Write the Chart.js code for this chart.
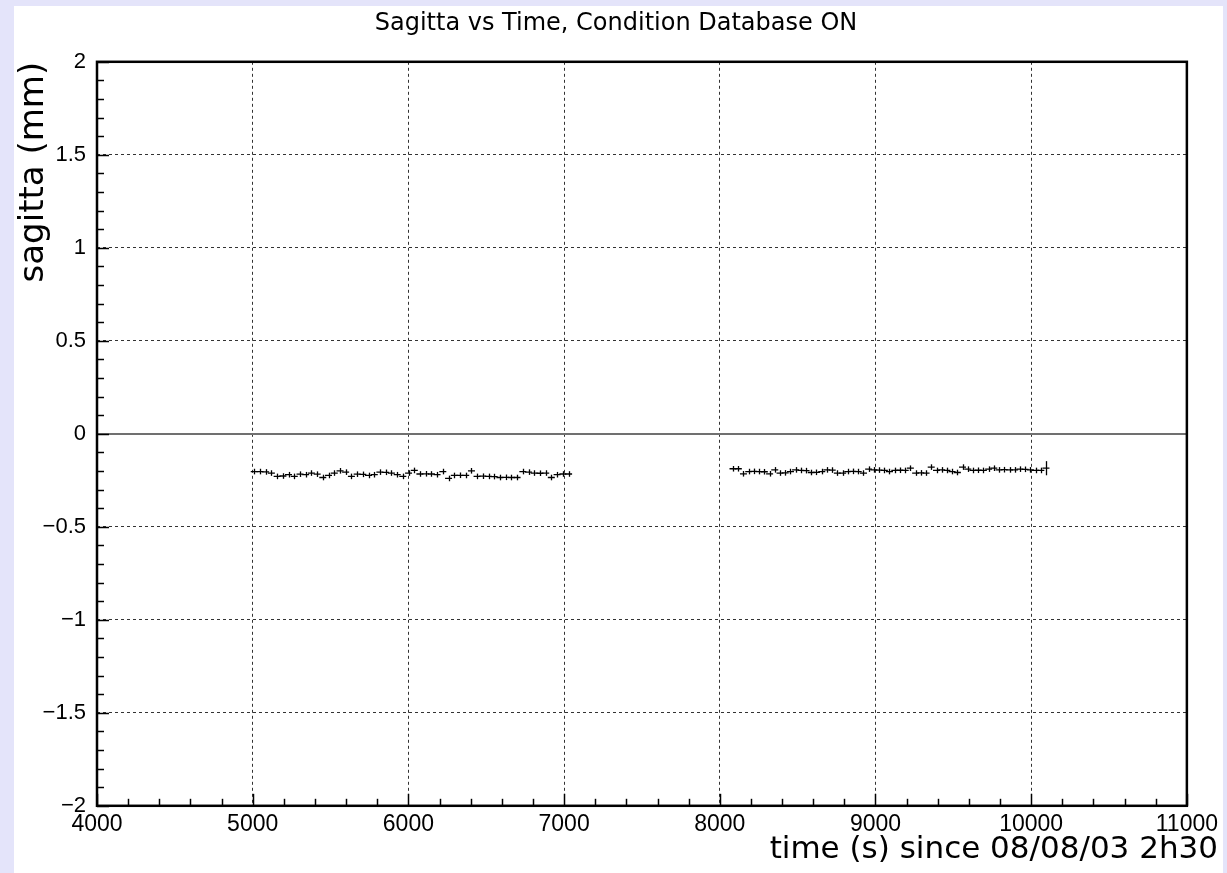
<!DOCTYPE html>
<html>
<head>
<meta charset="utf-8">
<title>Sagitta vs Time</title>
<script src="https://cdn.jsdelivr.net/npm/chart.js@4.4.1/dist/chart.umd.min.js"></script>
<style>
  html, body { margin: 0; padding: 0; background: #e4e4fa; }
  #wrap { position: absolute; left: 14px; top: 6px; width: 1209px; height: 867px; background: #fff; }
</style>
</head>
<body>
<div id="wrap"><canvas id="chart" width="1209" height="867"></canvas></div>
<script>
const chartTitle = 'Sagitta vs Time, Condition Database ON';
const xTitle = 'time (s) since 08/08/03 2h30';
const yTitle = 'sagitta (mm)';

const xTicks = [4000, 5000, 6000, 7000, 8000, 9000, 10000, 11000];
const xTickLabels = ['4000', '5000', '6000', '7000', '8000', '9000', '10000', '11000'];
const yTicks = [-2, -1.5, -1, -0.5, 0, 0.5, 1, 1.5, 2];
const yTickLabels = ['\u22122', '\u22121.5', '\u22121', '\u22120.5', '0', '0.5', '1', '1.5', '2'];

// first run
const time1 = [5010, 5047, 5083, 5120, 5157, 5194, 5230, 5267, 5304, 5340, 5377, 5414, 5450, 5487,
  5524, 5561, 5597, 5634, 5671, 5707, 5744, 5781, 5817, 5854, 5891, 5928, 5964, 6001, 6038, 6074,
  6111, 6148, 6184, 6221, 6258, 6295, 6331, 6368, 6405, 6441, 6478, 6515, 6551, 6588, 6625, 6662,
  6698, 6735, 6772, 6808, 6845, 6882, 6918, 6955, 6992, 7029];
const sag1 = [-0.203, -0.203, -0.205, -0.211, -0.229, -0.227, -0.220, -0.229, -0.217, -0.220, -0.211,
  -0.217, -0.235, -0.224, -0.211, -0.199, -0.206, -0.229, -0.217, -0.218, -0.224, -0.220, -0.206,
  -0.207, -0.211, -0.220, -0.229, -0.211, -0.197, -0.216, -0.215, -0.216, -0.220, -0.203, -0.240,
  -0.224, -0.223, -0.224, -0.199, -0.229, -0.228, -0.229, -0.230, -0.235, -0.234, -0.235, -0.235,
  -0.203, -0.206, -0.211, -0.212, -0.211, -0.235, -0.220, -0.216, -0.216];

// second run
const time2 = [8085, 8119, 8152, 8186, 8219, 8253, 8286, 8320, 8353, 8387, 8420, 8454, 8487, 8521,
  8554, 8588, 8621, 8655, 8688, 8722, 8755, 8789, 8822, 8856, 8889, 8923, 8956, 8990, 9023, 9057,
  9090, 9124, 9157, 9191, 9224, 9258, 9291, 9325, 9358, 9392, 9425, 9459, 9492, 9526, 9559, 9593,
  9626, 9660, 9693, 9727, 9760, 9794, 9827, 9861, 9894, 9928, 9961, 9995, 10028, 10062, 10095];
const sag2 = [-0.188, -0.188, -0.215, -0.203, -0.202, -0.203, -0.204, -0.215, -0.194, -0.211, -0.210,
  -0.203, -0.194, -0.197, -0.198, -0.208, -0.207, -0.203, -0.194, -0.195, -0.211, -0.211, -0.203,
  -0.202, -0.203, -0.211, -0.190, -0.194, -0.195, -0.197, -0.203, -0.197, -0.196, -0.197, -0.185,
  -0.211, -0.210, -0.211, -0.179, -0.197, -0.194, -0.197, -0.203, -0.208, -0.179, -0.190, -0.197,
  -0.196, -0.197, -0.190, -0.185, -0.194, -0.193, -0.194, -0.194, -0.190, -0.191, -0.194, -0.197,
  -0.197, -0.185];

// vertical errors (mm)
const err1 = 0.015;
const err2 = 0.015;
const err2Last = 0.038;

const fontName = '"DejaVu Sans", sans-serif';
const tickFont = '"Liberation Sans", Arial, sans-serif';

function toPoints(t, v) {
  return t.map((x, i) => ({ x: x, y: v[i] }));
}

// zero line, frame, inner ticks and error bars
const rootStyle = {
  id: 'rootStyle',
  beforeDatasetsDraw(chart) {
    const { ctx, chartArea: a, scales: { y } } = chart;
    const y0 = Math.round(y.getPixelForValue(0));
    ctx.save();
    ctx.strokeStyle = '#707070';
    ctx.lineWidth = 2;
    ctx.beginPath();
    ctx.moveTo(a.left, y0);
    ctx.lineTo(a.right, y0);
    ctx.stroke();
    ctx.restore();
  },
  afterDatasetsDraw(chart) {
    const { ctx, scales: { y } } = chart;
    ctx.save();
    ctx.strokeStyle = '#000';
    ctx.lineWidth = 1.3;
    chart.data.datasets.forEach((ds, di) => {
      const meta = chart.getDatasetMeta(di);
      meta.data.forEach((pt, i) => {
        const e = ds.errors[i];
        const top = y.getPixelForValue(ds.data[i].y + e);
        const bot = y.getPixelForValue(ds.data[i].y - e);
        ctx.beginPath();
        ctx.moveTo(Math.round(pt.x) + 0.5, top);
        ctx.lineTo(Math.round(pt.x) + 0.5, bot);
        ctx.stroke();
      });
    });
    ctx.restore();
  },
  afterDraw(chart) {
    const { ctx, chartArea: a, scales: { x, y } } = chart;
    ctx.save();
    ctx.strokeStyle = '#000';
    ctx.lineWidth = 1.5;
    // minor / major ticks on bottom axis
    for (let v = x.min; v <= x.max + 1e-6; v += 200) {
      const px = Math.round(x.getPixelForValue(v)) + 0.5;
      const len = (Math.round(v) % 1000 === 0) ? 12 : 7;
      ctx.beginPath();
      ctx.moveTo(px, a.bottom);
      ctx.lineTo(px, a.bottom - len);
      ctx.stroke();
    }
    // minor / major ticks on left axis
    for (let k = -20; k <= 20; k++) {
      const py = Math.round(y.getPixelForValue(k / 10)) + 0.5;
      const len = (k % 5 === 0) ? 12 : 7;
      ctx.beginPath();
      ctx.moveTo(a.left, py);
      ctx.lineTo(a.left + len, py);
      ctx.stroke();
    }
    ctx.lineWidth = 2.5;
    ctx.strokeRect(a.left, a.top, a.right - a.left, a.bottom - a.top);
    ctx.restore();
  }
};

const ctx = document.getElementById('chart');
const chart = new Chart(ctx, {
  type: 'scatter',
  data: {
    datasets: [{
      label: 'run 1',
      data: toPoints(time1, sag1),
      errors: sag1.map(() => err1),
      pointStyle: 'line',
      pointRadius: 3.5,
      borderColor: '#000',
      backgroundColor: '#000',
      borderWidth: 1.3,
      showLine: false
    }, {
      label: 'run 2',
      data: toPoints(time2, sag2),
      errors: sag2.map((v, i) => i === sag2.length - 1 ? err2Last : err2),
      pointStyle: 'line',
      pointRadius: 3.5,
      borderColor: '#000',
      backgroundColor: '#000',
      borderWidth: 1.3,
      showLine: false
    }]
  },
  options: {
    responsive: false,
    animation: false,
    layout: { padding: { left: 0, right: 5, top: 0, bottom: 0 } },
    plugins: {
      legend: { display: false },
      tooltip: { enabled: false },
      title: {
        display: true,
        text: chartTitle,
        color: '#000',
        font: { family: fontName, size: 24, weight: 'normal', lineHeight: 1.2 },
        padding: { top: 3, bottom: 24 }
      },
      subtitle: {
        display: true,
        position: 'bottom',
        align: 'end',
        text: xTitle,
        color: '#000',
        font: { family: fontName, size: 31, weight: 'normal', lineHeight: 1.2 },
        padding: { top: 0, bottom: 4 }
      }
    },
    scales: {
      x: {
        type: 'linear',
        min: 4000,
        max: 11000,
        afterBuildTicks: s => { s.ticks = xTicks.map(v => ({ value: v })); },
        afterFit: s => { s.height = 26; },
        ticks: {
          callback: (v, i) => xTickLabels[i],
          color: '#000',
          font: { family: tickFont, size: 23 },
          padding: 5,
          maxRotation: 0,
          autoSkip: false
        },
        grid: { color: '#333', lineWidth: 1, drawTicks: false },
        border: { display: false, dash: [3, 3] }
      },
      y: {
        type: 'linear',
        min: -2,
        max: 2,
        afterBuildTicks: s => { s.ticks = yTicks.map(v => ({ value: v })); },
        afterFit: s => { s.width = 83; },
        ticks: {
          callback: (v, i) => yTickLabels[i],
          color: '#000',
          font: { family: tickFont, size: 22 },
          padding: 11
        },
        title: {
          display: true,
          text: yTitle,
          align: 'end',
          color: '#000',
          font: { family: fontName, size: 34, weight: 'normal', lineHeight: 1.2 },
          padding: { top: 0, bottom: 0 }
        },
        grid: { color: '#333', lineWidth: 1, drawTicks: false },
        border: { display: false, dash: [3, 3] }
      },
      yRight: {
        type: 'linear',
        position: 'right',
        display: true,
        min: -2,
        max: 2,
        afterFit: s => { s.width = 31; },
        ticks: { display: false },
        grid: { display: false, drawTicks: false },
        border: { display: false }
      }
    }
  },
  plugins: [rootStyle]
});
</script>
</body>
</html>
